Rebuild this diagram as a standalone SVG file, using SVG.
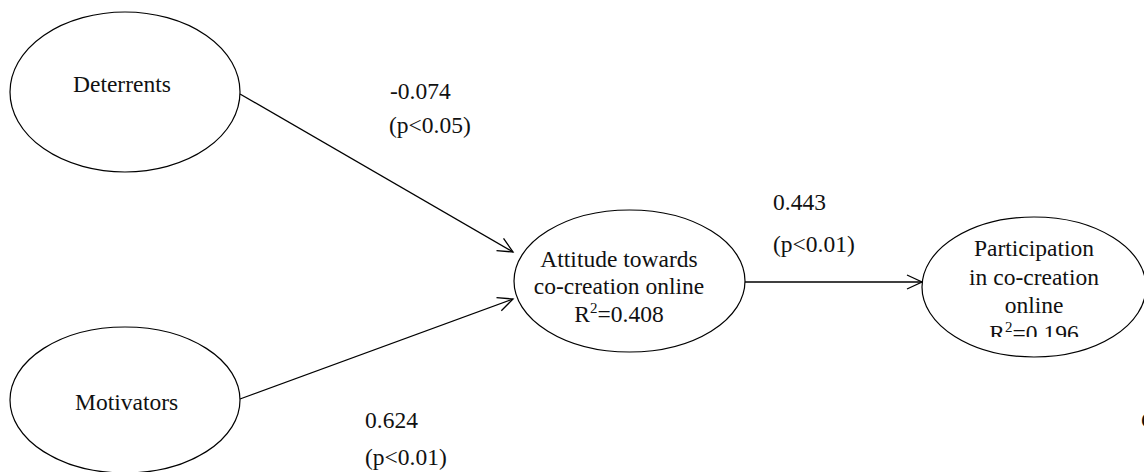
<svg xmlns="http://www.w3.org/2000/svg" width="1144" height="472" viewBox="0 0 1144 472">
  <style>
    .node { fill: #ffffff; stroke: #000000; stroke-width: 1.2; }
    .lbl { font-family: "Liberation Serif", "Times New Roman", serif; font-size: 23.5px; fill: #111111; }
    .mid { text-anchor: middle; }
    .edge { stroke: #000000; stroke-width: 1.3; fill: none; marker-end: url(#openArrow); }
  </style>
  <defs>
    <marker id="openArrow" markerUnits="userSpaceOnUse" markerWidth="20" markerHeight="20" viewBox="0 0 20 20" refX="17" refY="10" orient="auto">
      <path d="M2,3 L17,10 L2,17" fill="none" stroke="#000000" stroke-width="1.3"/>
    </marker>
    <clipPath id="partClip">
      <rect x="900" y="200" width="244" height="137"/>
    </clipPath>
  </defs>

  <rect width="1144" height="472" fill="#ffffff"/>

  <!-- paths between constructs -->
  <g id="connectors">
    <line class="edge" x1="240" y1="94" x2="513" y2="252"/>
    <line class="edge" x1="240" y1="399" x2="513" y2="299"/>
    <line class="edge" x1="745" y1="282" x2="922" y2="282"/>
  </g>

  <g id="deterrents">
    <ellipse class="node" cx="125" cy="92" rx="115" ry="80"/>
    <text class="lbl" x="73" y="92">Deterrents</text>
  </g>

  <g id="motivators">
    <ellipse class="node" cx="125" cy="400" rx="115" ry="73"/>
    <text class="lbl" x="75" y="410">Motivators</text>
  </g>

  <g id="attitude">
    <ellipse class="node" cx="629.5" cy="281" rx="115.5" ry="71"/>
    <text class="lbl mid" x="619" y="267">Attitude towards</text>
    <text class="lbl mid" x="619" y="293.5">co-creation online</text>
    <text class="lbl mid" x="619" y="321.5">R<tspan font-size="15" dy="-9">2</tspan><tspan dy="9">=0.408</tspan></text>
  </g>

  <g id="participation">
    <ellipse class="node" cx="1034" cy="287" rx="112" ry="70"/>
    <g clip-path="url(#partClip)">
      <text class="lbl mid" x="1034" y="256">Participation</text>
      <text class="lbl mid" x="1034" y="285">in co-creation</text>
      <text class="lbl mid" x="1034" y="313">online</text>
      <text class="lbl mid" x="1034" y="341">R<tspan font-size="15" dy="-9">2</tspan><tspan dy="9">=0.196</tspan></text>
    </g>
  </g>

  <!-- path coefficients -->
  <g id="coefficients">
    <text class="lbl" x="390" y="99">-0.074</text>
    <text class="lbl" x="389" y="133">(p&lt;0.05)</text>
    <text class="lbl" x="773" y="210">0.443</text>
    <text class="lbl" x="773" y="252">(p&lt;0.01)</text>
    <text class="lbl" x="365" y="428">0.624</text>
    <text class="lbl" x="365" y="465">(p&lt;0.01)</text>
    <text class="lbl" x="1141" y="428">C</text>
  </g>
</svg>
